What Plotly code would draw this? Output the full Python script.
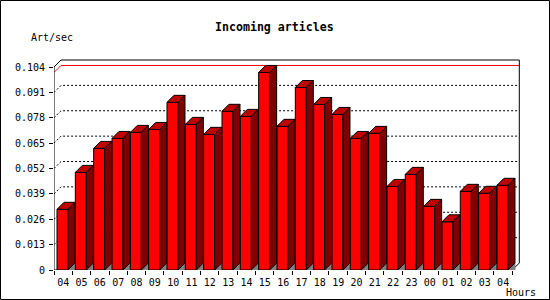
import plotly.graph_objects as go

# ---- data ----
hours = ["04", "05", "06", "07", "08", "09", "10", "11", "12", "13", "14", "15", "16",
         "17", "18", "19", "20", "21", "22", "23", "00", "01", "02", "03", "04"]
rates = [0.0311, 0.0500, 0.0623, 0.0674, 0.0705, 0.0720, 0.0859, 0.0746, 0.0695,
         0.0813, 0.0787, 0.1012, 0.0736, 0.0935, 0.0848, 0.0797, 0.0674, 0.0700,
         0.0428, 0.0490, 0.0326, 0.0247, 0.0403, 0.0393, 0.0434]
ytick_vals = [0, 0.013, 0.026, 0.039, 0.052, 0.065, 0.078, 0.091, 0.104]
ytick_text = ["0", "0.013", "0.026", "0.039", "0.052", "0.065", "0.078", "0.091", "0.104"]
title_text = "Incoming articles"
ylabel_text = "Art/sec"
xlabel_text = "Hours"

# ---- geometry (pixel based layout) ----
W, H = 550, 300
L, R, T, B = 54, 28, 55, 30
PW, PH = W - L - R, H - T - B
n = len(rates)
PX_X = 458.3 / n            # pixels per category unit
PX_Y = 203.0 / 0.104        # pixels per value unit
xmax = PW / PX_X
ymax = PH / PX_Y
DX = 7 / PX_X               # depth offset in x units
DY = 7 / PX_Y               # depth offset in y units
F0 = 3 / PX_X               # front face left offset
FW = 11 / PX_X              # front face width
ytop = ytick_vals[-1]

fig = go.Figure()

# gridlines on the back plane (with left-wall stubs)
gx, gy = [], []
for t in ytick_vals[1:-1]:
    gx += [0, DX, n + DX, None]
    gy += [t, t + DY, t + DY, None]
fig.add_trace(go.Scatter(x=gx, y=gy, mode="lines",
                         line=dict(color="black", width=1, dash="2px,2px"),
                         hoverinfo="skip", showlegend=False))

# max value line
vmax = max(rates)
fig.add_trace(go.Scatter(x=[0, DX, n + DX], y=[vmax, vmax + DY, vmax + DY], mode="lines",
                         line=dict(color="red", width=1), hoverinfo="skip", showlegend=False))

# frame
fig.add_trace(go.Scatter(x=[0, 0, DX, n + DX, n + DX, n, 0],
                         y=[0, ytop, ytop + DY, ytop + DY, DY, 0, 0], mode="lines",
                         line=dict(color="black", width=1), hoverinfo="skip", showlegend=False))

# bars
sx, sy, tx, ty, fx, fy, hx, hy = [], [], [], [], [], [], [], []
for i, v in enumerate(rates):
    xl = i + F0
    xr = xl + FW
    # shadow triangle on floor
    sx += [xr, xr + DX, xr + DX, xr, None]
    sy += [0, 0, DY, 0, None]
    # front face
    fx += [xl, xr, xr, xl, xl, None]
    fy += [0, 0, v, v, 0, None]
    # top face
    tx += [xl, xl + DX, xr + DX, xr, xl, None]
    ty += [v, v + DY, v + DY, v, v, None]
    # side face
    hx += [xr, xr, xr + DX, xr + DX, xr, None]
    hy += [0, v, v + DY, DY, 0, None]

def poly(x, y, fillc, linec):
    return go.Scatter(x=x, y=y, mode="lines", fill="toself", fillcolor=fillc,
                      line=dict(color=linec, width=1), hoverinfo="skip", showlegend=False)

fig.add_trace(poly(sx, sy, "#808080", "#808080"))
fig.add_trace(poly(fx, fy, "#FF0000", "black"))
fig.add_trace(poly(tx, ty, "#C00000", "black"))
fig.add_trace(poly(hx, hy, "#800000", "black"))

# invisible trace for label axis
fig.add_trace(go.Scatter(x=[i + 0.5 for i in range(n)], y=[0] * n, xaxis="x2",
                         mode="markers", marker=dict(opacity=0), hoverinfo="skip",
                         showlegend=False))

mono = "DejaVu Sans Mono"
fig.update_layout(
    width=W, height=H,
    margin=dict(l=L, r=R, t=T, b=B, autoexpand=False),
    paper_bgcolor="white", plot_bgcolor="white",
    font=dict(family=mono, size=10, color="black"),
    xaxis=dict(range=[0, xmax], tickvals=list(range(n + 1)), ticks="outside", ticklen=4,
               tickcolor="black", showticklabels=False, showgrid=False, zeroline=False,
               showline=False),
    xaxis2=dict(range=[0, xmax], overlaying="x", side="bottom",
                tickvals=[i + 0.5 for i in range(n)], ticktext=hours, ticks="",
                ticklabelstandoff=5, showgrid=False, zeroline=False, showline=False,
                tickfont=dict(family=mono, size=10, color="black")),
    yaxis=dict(range=[0, ymax], tickvals=ytick_vals, ticktext=ytick_text, ticks="outside",
               ticklen=4, tickcolor="black", showgrid=False, zeroline=False, showline=False,
               ticklabelstandoff=2, tickfont=dict(family=mono, size=10, color="black")),
    annotations=[
        dict(text="<b>" + title_text + "</b>", xref="paper", yref="paper",
             x=(274 - L) / PW, y=(H - B - 27) / PH, xanchor="center", yanchor="middle",
             showarrow=False, font=dict(family=mono, size=11.6, color="black")),
        dict(text=ylabel_text, xref="paper", yref="paper",
             x=(29 - L) / PW, y=(H - B - 37) / PH, xanchor="left", yanchor="middle",
             showarrow=False, font=dict(family=mono, size=10, color="black")),
        dict(text=xlabel_text, xref="paper", yref="paper",
             x=(504 - L) / PW, y=(H - B - 292) / PH, xanchor="left", yanchor="middle",
             showarrow=False, font=dict(family=mono, size=10, color="black")),
    ],
    shapes=[dict(type="rect", xref="paper", yref="paper",
                 x0=(0.5 - L) / PW, x1=(W - 0.5 - L) / PW,
                 y0=(H - B - (H - 0.5)) / PH, y1=(H - B - 0.5) / PH,
                 line=dict(color="black", width=1), fillcolor="rgba(0,0,0,0)")],
)

fig.write_html("out.html")
